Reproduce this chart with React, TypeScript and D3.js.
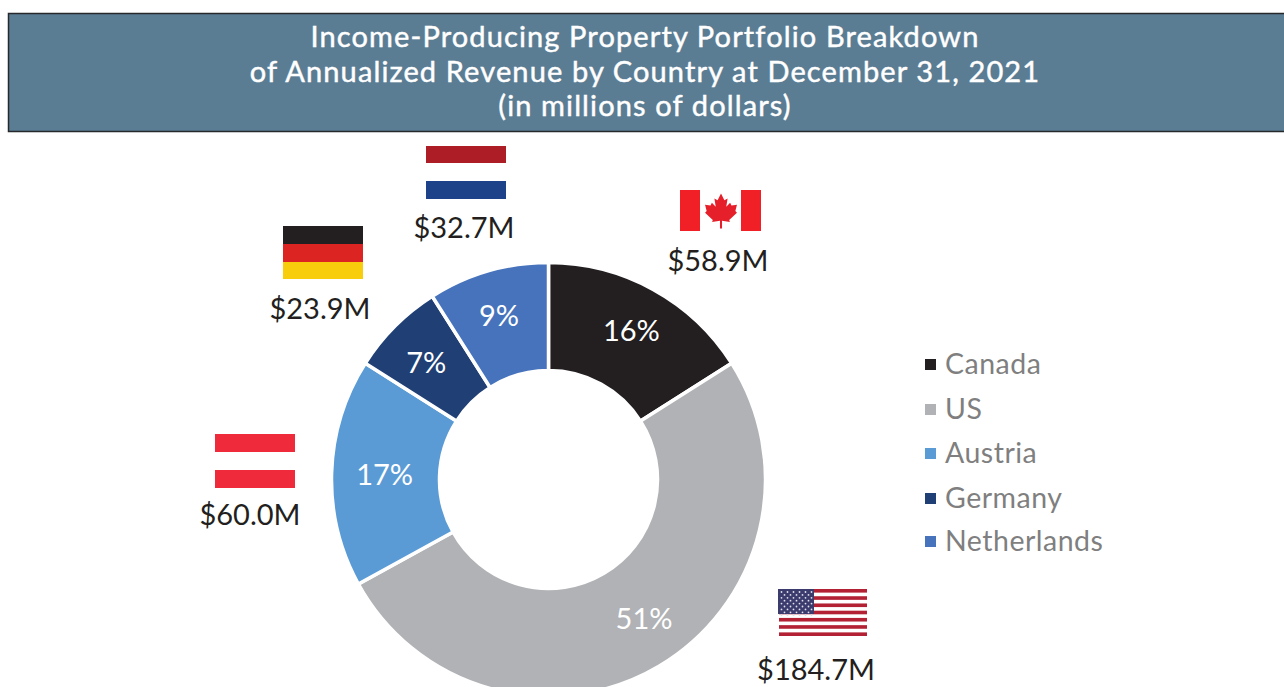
import React from "react";
import * as d3 from "d3";

const countries = ["Canada", "US", "Austria", "Germany", "Netherlands"];
const shares = [16, 51, 17, 7, 9];
const percents = ["16%", "51%", "17%", "7%", "9%"];
const sliceColors = ["#231f20", "#b1b2b5", "#5b9bd5", "#1f3f75", "#4673bc"];
const amounts = ["$58.9M", "$184.7M", "$60.0M", "$23.9M", "$32.7M"];
const titleLines = [
  "Income-Producing Property Portfolio Breakdown",
  "of Annualized Revenue by Country at December 31, 2021",
  "(in millions of dollars)",
];
const amountPos = [[718, 271], [816, 680], [250, 525], [320, 319], [464, 238]];
const legendY = [364, 409, 453, 498, 541];
const labelNudge = [[1, 0], [9, -7], [6, 1], [-2, 4], [-2, 0]];

const cx = 548.5, cy = 479.5, R = 217, r = 109;
const FONT = "Lato, 'Open Sans', sans-serif";

const MAPLE = "M0,-14.5 L3,-9 L5.8,-10.5 L4.6,-3.5 L8,-6.8 L9.2,-4.5 L14,-5.2 L12.6,0 L14,1.5 L7.2,7.4 L7.8,9.2 L0.9,8.2 L0.9,14.5 L-0.9,14.5 L-0.9,8.2 L-7.8,9.2 L-7.2,7.4 L-14,1.5 L-12.6,0 L-14,-5.2 L-9.2,-4.5 L-8,-6.8 L-4.6,-3.5 L-5.8,-10.5 L-3,-9 Z";

function UsFlag() {
  const stripeH = 47 / 13;
  const stripes = d3.range(0, 13, 2);
  const stars: [number, number][] = [];
  d3.range(9).forEach((row) => {
    const n = row % 2 === 0 ? 6 : 5;
    d3.range(n).forEach((c) => stars.push([781.5 + (row % 2 === 0 ? 0 : 3) + c * 6, 592 + row * 2.9]));
  });
  return (
    <g>
      {stripes.map((s) => (
        <rect key={s} x={779} y={589 + s * stripeH} width={88} height={stripeH} fill="#b22234" />
      ))}
      <rect x={778} y={589} width={36} height={25} fill="#3c3b6e" />
      {stars.map(([x, y], i) => (
        <circle key={i} cx={x} cy={y} r={0.9} fill="#dfe0ea" />
      ))}
    </g>
  );
}

export default function App() {
  const pie = d3.pie<number>().sort(null).value((d) => d)(shares);
  const arc = d3.arc<d3.PieArcDatum<number>>().innerRadius(r).outerRadius(R);
  const mid = d3.arc<d3.PieArcDatum<number>>().innerRadius(170).outerRadius(170);
  return (
    <svg width={1284} height={687} style={{ position: "absolute", left: 0, top: 0 }} fontFamily={FONT}>
      <rect x={0} y={0} width={1284} height={687} fill="#fff" />
      <rect x={8.5} y={13.5} width={1290} height={118} fill="#5b7d94" stroke="#26282b" strokeWidth={1.5} />
      {titleLines.map((t, i) => (
        <text key={i} x={645} y={47 + i * 34.5} textAnchor="middle" fill="#fff" stroke="#fff" strokeWidth={0.45} fontSize={29} letterSpacing={1.12}>
          {t}
        </text>
      ))}

      <g transform={`translate(${cx},${cy})`}>
        {pie.map((d, i) => (
          <path key={i} d={arc(d) ?? ""} fill={sliceColors[i]} stroke="#fff" strokeWidth={3.5} />
        ))}
        {pie.map((d, i) => {
          const [x, y] = mid.centroid(d);
          return (
            <text key={i} x={x + labelNudge[i][0]} y={y + labelNudge[i][1] + 10} textAnchor="middle" fill="#fff" fontSize={29}>
              {percents[i]}
            </text>
          );
        })}
      </g>

      {amounts.map((a, i) => (
        <text key={a} x={amountPos[i][0]} y={amountPos[i][1]} textAnchor="middle" fill="#231f20" fontSize={29}>
          {a}
        </text>
      ))}

      {countries.map((c, i) => (
        <g key={c}>
          <rect x={925} y={legendY[i] - 5} width={11} height={11} fill={sliceColors[i]} />
          <text x={945} y={legendY[i] + 10} fill="#7f7f7f" fontSize={28.5} letterSpacing={0.5}>
            {c}
          </text>
        </g>
      ))}

      {/* Canada */}
      <rect x={680} y={190} width={20} height={41} fill="#f12027" />
      <rect x={741} y={190} width={20} height={41} fill="#f12027" />
      <path d={MAPLE} transform="translate(721,211) scale(1.14,1.2)" fill="#e5202a" />
      {/* US */}
      <UsFlag />
      {/* Austria */}
      <rect x={215} y={434} width={80} height={18} fill="#ef2b3b" />
      <rect x={215} y={470} width={80} height={18} fill="#ef2b3b" />
      {/* Germany */}
      <rect x={283} y={226} width={80} height={18} fill="#231f20" />
      <rect x={283} y={244} width={80} height={18} fill="#dc2522" />
      <rect x={283} y={262} width={80} height={17} fill="#f8cd0b" />
      {/* Netherlands */}
      <rect x={426} y={146} width={80} height={17} fill="#ad1d26" />
      <rect x={426} y={181} width={80} height={18} fill="#1d4289" />
    </svg>
  );
}
